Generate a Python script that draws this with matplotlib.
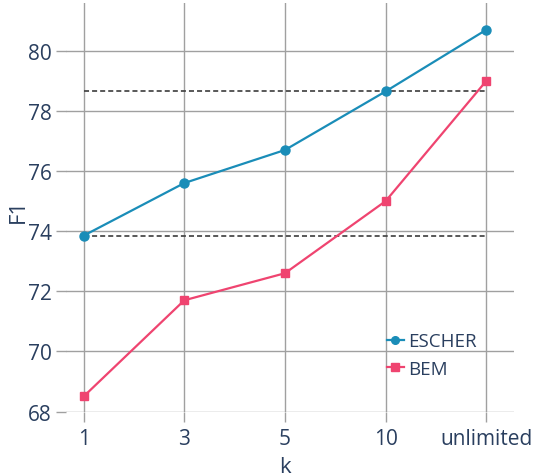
import matplotlib
matplotlib.use("Agg")
import matplotlib.pyplot as plt

categories = ["1", "3", "5", "10", "unlimited"]
escher = [73.85, 75.6, 76.7, 78.65, 80.7]
bem = [68.5, 71.7, 72.6, 75.0, 79.0]
ref_lines = [73.85, 78.65]

plt.rcParams['font.family'] = ['Open Sans', 'DejaVu Sans']
txt = '#2a3f5f'
grid = '#a0a0a0'

fig = plt.figure(figsize=(5.34, 4.77), dpi=100)
W, H = 534, 477
L, R, T, B = 65.5, 513.5, 4, 412.5
ax = fig.add_axes([L / W, (H - B) / H, (R - L) / W, (B - T) / H])

x = list(range(len(categories)))
for y in ref_lines:
    ax.plot([x[0], x[-1]], [y, y], color='#444444', lw=1.25, ls=(0, (2.9, 1.75)), zorder=2)
ax.plot(x, escher, color='#1a8db8', lw=1.6, marker='o', ms=6.5, label='ESCHER', zorder=3)
ax.plot(x, bem, color='#ef4470', lw=1.6, marker='s', ms=6, label='BEM', zorder=3)

ax.set_xlim(-0.18, 4.27)
ax.set_ylim(68, 81.59)
ax.set_xticks(x)
ax.set_xticklabels(categories)
ax.set_yticks([68, 70, 72, 74, 76, 78, 80])
ax.grid(True, color=grid, lw=1)
ax.set_axisbelow(True)
for s in ax.spines.values():
    s.set_visible(False)
ax.tick_params(axis='both', colors=grid, length=7.5, width=1, labelsize=15, labelcolor=txt)
ax.tick_params(axis='y', pad=2.2)
ax.tick_params(axis='x', pad=4.2)
ax.set_xlabel('k', fontsize=16, color=txt)
ax.set_ylabel('F1', fontsize=16, color=txt)
ax.xaxis.set_label_coords((285 - L) / (R - L), (B - 468) / (B - T))
ax.xaxis.label.set_va('center')
ax.yaxis.set_label_coords((18 - L) / (R - L), (B - 211) / (B - T))
ax.yaxis.label.set_va('center')

leg = ax.legend(loc='lower left', bbox_to_anchor=((387 - L) / (R - L), (B - 379) / (B - T)),
                frameon=False, fontsize=13.5, handlelength=0.9, handletextpad=0.25,
                labelspacing=0.52, borderaxespad=0, borderpad=0, labelcolor=txt)
for h in leg.legend_handles:
    h.set_markersize(5.5)

fig.savefig('out.png', dpi=100)
